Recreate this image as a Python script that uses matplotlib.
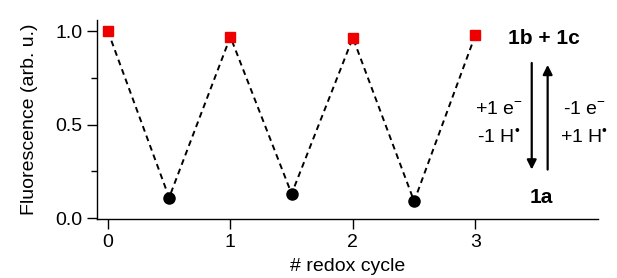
import matplotlib
matplotlib.use("Agg")
import matplotlib.pyplot as plt
from matplotlib.ticker import MultipleLocator

plt.rcParams['font.family'] = ['Liberation Sans', 'DejaVu Sans']
plt.rcParams['mathtext.fontset'] = 'custom'
plt.rcParams['mathtext.rm'] = 'Liberation Sans'

# data
cycle = [0, 0.5, 1, 1.5, 2, 2.5, 3]
fluor = [1.0, 0.11, 0.97, 0.13, 0.965, 0.09, 0.98]
sq_x = [0, 1, 2, 3]
sq_y = [1.0, 0.97, 0.965, 0.98]
ci_x = [0.5, 1.5, 2.5]
ci_y = [0.11, 0.13, 0.09]

fig = plt.figure(figsize=(6.17, 2.78), dpi=100)
ax = fig.add_axes([0.157, 0.212, 0.812, 0.716])

ax.plot(cycle, fluor, '--', color='black', lw=1.4, dashes=(3, 2.2), zorder=1)
ax.plot(sq_x, sq_y, 's', color='#ee0000', ms=7.5, zorder=3)
ax.plot(ci_x, ci_y, 'o', color='black', ms=8, zorder=3)

ax.set_xlim(-0.09, 4.0)
ax.set_ylim(-0.005, 1.06)
ax.set_xticks([0, 1, 2, 3])
ax.set_yticks([0.0, 0.5, 1.0])
ax.yaxis.set_minor_locator(MultipleLocator(0.25))
ax.set_yticklabels(['0.0', '0.5', '1.0'])
ax.tick_params(axis='both', which='major', labelsize=14, length=7, width=1, direction='out')
ax.tick_params(axis='y', which='minor', length=4, width=1)
for s in ['top', 'right']:
    ax.spines[s].set_visible(False)
ax.spines['left'].set_linewidth(1)
ax.spines['bottom'].set_linewidth(1)

ax.set_xlabel('# redox cycle', fontsize=14, labelpad=5)
ax.set_ylabel('Fluorescence (arb. u.)', fontsize=14, labelpad=12)

# reaction scheme
ax.text(3.56, 0.96, '1b + 1c', fontsize=15, fontweight='bold', ha='center', va='center')
ax.text(3.54, 0.11, '1a', fontsize=15, fontweight='bold', ha='center', va='center')
ax.annotate('', xy=(3.46, 0.245), xytext=(3.46, 0.845),
            arrowprops=dict(arrowstyle='-|>', color='black', lw=1.6, mutation_scale=14))
ax.annotate('', xy=(3.59, 0.835), xytext=(3.59, 0.245),
            arrowprops=dict(arrowstyle='-|>', color='black', lw=1.6, mutation_scale=14))
ax.text(3.19, 0.58, r'+1 e$^{\mathregular{-}}$', fontsize=14, ha='center', va='center')
ax.text(3.19, 0.43, r'-1 H$^{\mathregular{•}}$', fontsize=14, ha='center', va='center')
ax.text(3.89, 0.58, r'-1 e$^{\mathregular{-}}$', fontsize=14, ha='center', va='center')
ax.text(3.89, 0.43, r'+1 H$^{\mathregular{•}}$', fontsize=14, ha='center', va='center')

fig.savefig('out.png', dpi=100)
